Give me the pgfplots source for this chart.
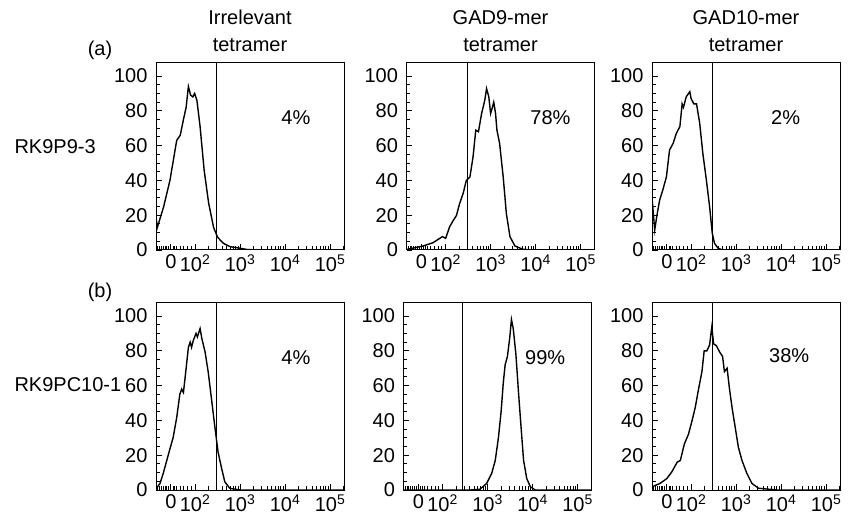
\documentclass[border=0pt]{standalone}
\usepackage{pgfplots}
\pgfplotsset{compat=1.18}
\usepackage{fontspec}
\setmainfont{Liberation Sans}
\newcommand{\ff}{\fontsize{20bp}{27bp}\selectfont}

\pgfplotsset{
  panel/.style={
    scale only axis, width=188bp, height=187bp, anchor=south west,
    xmin=1.13, xmax=5.31, ymin=0, ymax=107.5,
    axis line style={line width=1bp},
    tick align=inside, xtick pos=left, ytick pos=left,
    xtick={1.46,2,3,4,5},
    xticklabels={0,10\textsuperscript{2},10\textsuperscript{3},10\textsuperscript{4},10\textsuperscript{5}},
    minor xtick={1.17,1.21,1.25,1.29,1.33,1.37,1.41,1.51,1.55,1.59,1.67,1.75,1.83,1.91,
      2.301,2.477,2.602,2.699,2.778,2.845,2.903,2.954,
      3.301,3.477,3.602,3.699,3.778,3.845,3.903,3.954,
      4.301,4.477,4.602,4.699,4.778,4.845,4.903,4.954,5.301},
    ytick={0,20,...,100},
    minor y tick num=3,
    major tick length=5.5bp, minor tick length=3.5bp,
    every tick/.style={black, line width=0.9bp},
    ticklabel style={font=\ff},
    xticklabel style={inner sep=0pt, text depth=0pt, anchor=north, yshift=-4.5bp},
    yticklabel style={xshift=-5bp},
    /pgf/number format/assume math mode=true,
    title style={font=\ff, align=center, at={(0.5,1)}, anchor=south, yshift=2bp},
  },
  curve/.style={black, line width=1.4bp, no markers},
  gate/.style={black, line width=1.3bp, no markers},
}

\begin{document}
\begin{tikzpicture}[font=\ff]
\path[use as bounding box] (0,0) rectangle (849bp,517bp);

\node[anchor=center] at (100bp,467bp) {(a)};
\node[anchor=center] at (100bp,225bp) {(b)};
\node[anchor=west] at (11bp,370bp) {RK9P9-3};
\node[anchor=west] at (11bp,132bp) {RK9PC10-1};

% Row 1, col 1
\begin{axis}[panel, at={(156bp,267bp)}, title={Irrelevant\\tetramer}]
\addplot[curve] coordinates {
(1.135,18) (1.16,13) (1.30,24.9) (1.44,40) (1.59,63) (1.67,66) (1.74,75) (1.80,82)
(1.85,94) (1.90,89) (1.95,88) (1.99,90) (2.04,86) (2.11,71) (2.20,46) (2.30,27)
(2.41,13) (2.50,7.3) (2.63,3.8) (2.78,1.9) (3.0,1) (3.15,0.3) (3.4,0) (5.31,0)};
\addplot[gate] coordinates {(2.48,0) (2.48,107.5)};
\node at (axis cs:4.24,76) {4\%};
\end{axis}

% Row 1, col 2
\begin{axis}[panel, at={(406.5bp,267bp)}, title={GAD9-mer\\tetramer}]
\addplot[curve] coordinates {
(1.13,0.3) (1.17,0.5) (1.35,1.5) (1.50,2.3) (1.72,4.2) (1.87,6.7) (1.93,7.7) (2.0,6.7)
(2.09,13.4) (2.17,17) (2.24,19.8) (2.31,26.6) (2.39,32.6) (2.46,40) (2.54,42)
(2.61,53.6) (2.67,68.9) (2.73,68) (2.80,78.5) (2.87,86) (2.91,92.8) (2.96,88)
(3.0,78.5) (3.04,82) (3.07,85) (3.11,78.5) (3.14,69) (3.20,61.3) (3.28,42)
(3.35,21) (3.43,7.7) (3.54,2.3) (3.72,0.4) (3.9,0) (5.31,0)};
\addplot[gate] coordinates {(2.48,0) (2.48,107.5)};
\node at (axis cs:4.33,76) {78\%};
\end{axis}

% Row 1, col 3
\begin{axis}[panel, at={(652bp,267bp)}, title={GAD10-mer\\tetramer}]
\addplot[curve] coordinates {
(1.135,28.7) (1.19,11.5) (1.24,20) (1.30,28.7) (1.37,34.5) (1.45,42) (1.52,57.5)
(1.60,61.3) (1.67,67) (1.75,71) (1.80,84) (1.83,82) (1.89,88) (1.97,91) (2.0,87)
(2.06,84) (2.12,84) (2.19,73) (2.26,55.6) (2.34,40) (2.41,25) (2.47,9.6) (2.52,3.8)
(2.60,1) (2.70,0) (5.31,0)};
\addplot[gate] coordinates {(2.48,0) (2.48,107.5)};
\node at (axis cs:4.10,76) {2\%};
\end{axis}

% Row 2, col 1
\begin{axis}[panel, at={(156bp,27bp)}]
\addplot[curve] coordinates {
(1.14,1) (1.22,3.8) (1.29,9.5) (1.37,17) (1.44,23.7) (1.51,30) (1.59,41.6) (1.66,55)
(1.70,58) (1.74,56) (1.80,70) (1.85,82) (1.89,85) (1.92,82) (1.96,86) (2.02,90)
(2.05,88) (2.11,92.8) (2.15,87) (2.22,79.5) (2.29,68) (2.37,51) (2.44,36) (2.51,21.8)
(2.59,12.3) (2.66,4.7) (2.77,1) (3.0,0) (5.31,0)};
\addplot[gate] coordinates {(2.48,0) (2.48,107.5)};
\node at (axis cs:4.24,76) {4\%};
\end{axis}

% Row 2, col 2
\begin{axis}[panel, at={(403.5bp,27bp)}]
\addplot[curve] coordinates {
(1.13,0) (2.61,0) (2.83,0.4) (2.98,3.8) (3.09,9.5) (3.17,17) (3.24,30) (3.30,45)
(3.35,62) (3.39,72) (3.44,76.7) (3.49,87) (3.53,98) (3.57,92.8) (3.63,77.7)
(3.69,55) (3.75,34) (3.80,17) (3.87,6.6) (3.95,1.9) (4.06,0) (5.31,0)};
\addplot[gate] coordinates {(2.44,0) (2.44,107.5)};
\node at (axis cs:4.28,76) {99\%};
\end{axis}

% Row 2, col 3
\begin{axis}[panel, at={(652bp,27bp)}]
\addplot[curve] coordinates {
(1.135,1.9) (1.31,3.8) (1.46,6.6) (1.57,10.4) (1.69,16) (1.76,17) (1.85,26.5)
(1.94,32) (2.02,39.8) (2.09,47.3) (2.17,58.7) (2.24,68) (2.29,80) (2.35,80)
(2.41,83.3) (2.46,93.7) (2.50,84) (2.56,83) (2.63,79.5) (2.70,76.7) (2.74,68)
(2.80,70) (2.85,58.7) (2.91,47.3) (2.98,36) (3.05,24.6) (3.13,17) (3.24,9.5)
(3.35,3.8) (3.50,1) (3.91,0) (5.31,0)};
\addplot[gate] coordinates {(2.48,0) (2.48,107.5)};
\node at (axis cs:4.18,77) {38\%};
\end{axis}
\end{tikzpicture}
\end{document}
